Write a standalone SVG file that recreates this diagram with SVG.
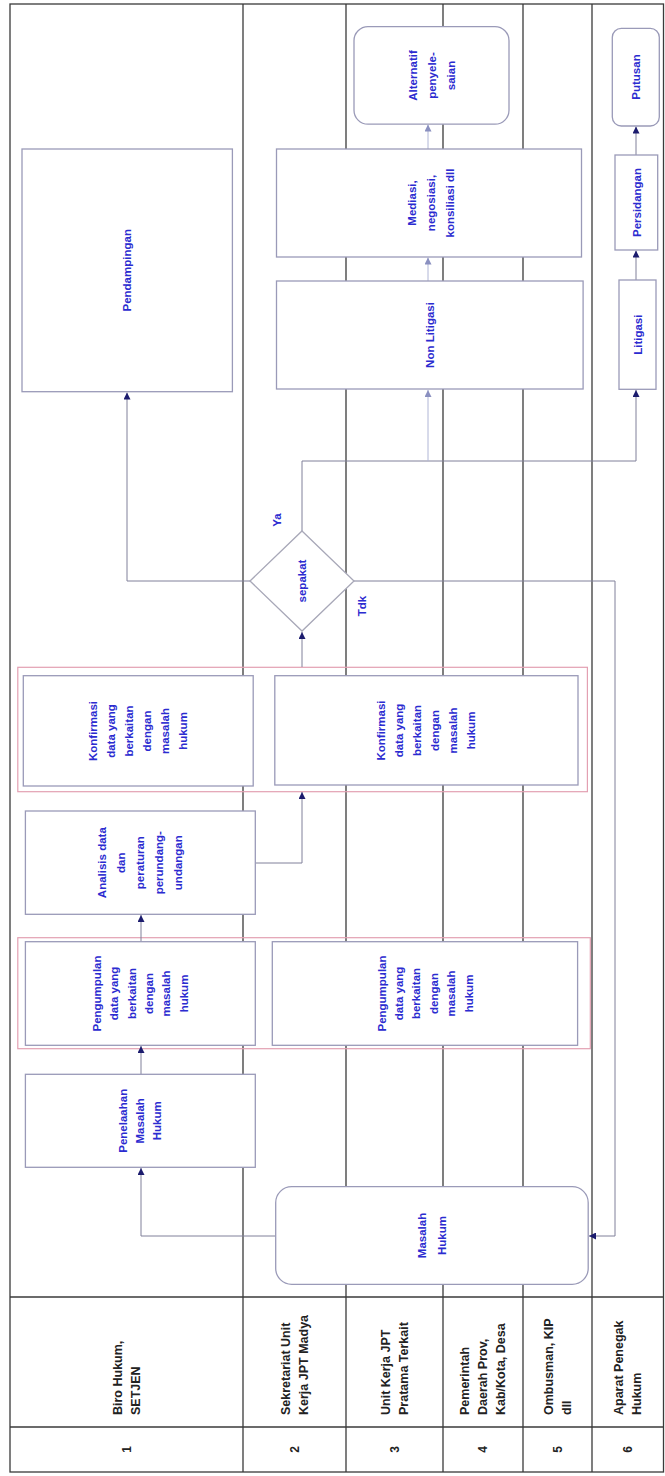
<svg xmlns="http://www.w3.org/2000/svg" width="665" height="1476" viewBox="0 0 665 1476">
<defs>
<marker id="arr" viewBox="0 0 10 10" refX="10" refY="5" markerWidth="7" markerHeight="7" orient="auto" markerUnits="userSpaceOnUse"><path d="M0,0 L10,5 L0,10 z" fill="#1c1c6e"/></marker>
<marker id="arrL" viewBox="0 0 10 10" refX="10" refY="5" markerWidth="7" markerHeight="7" orient="auto" markerUnits="userSpaceOnUse"><path d="M0,0 L10,5 L0,10 z" fill="#8a90c0"/></marker>
</defs>
<style>
.lane{stroke:#3a3a3a;stroke-width:1.3;fill:none}
.box{fill:#fff;stroke:#9a9ab8;stroke-width:1.3}
.grp{fill:none;stroke:#e3a0b2;stroke-width:1.2}
.t{font-family:"Liberation Sans",Arial,sans-serif;font-weight:bold;font-size:11.5px;fill:#2b2bd0;text-anchor:middle}
.h{font-family:"Liberation Sans",Arial,sans-serif;font-weight:bold;font-size:12.5px;fill:#222}
.n{font-family:"Liberation Sans",Arial,sans-serif;font-weight:bold;font-size:12px;fill:#222;text-anchor:middle}
.c{fill:none;stroke:#80809a;stroke-width:1;marker-end:url(#arr)}
.cl{fill:none;stroke:#b0b6d6;stroke-width:1;marker-end:url(#arrL)}
.cn{fill:none;stroke:#b0b6d6;stroke-width:1}
</style>
<rect x="0" y="0" width="665" height="1476" fill="#fff"/>
<g id="lanes">
<rect class="lane" x="10" y="4" width="653.5" height="1468" stroke-width="1.6"/>
<line class="lane" x1="243" y1="4" x2="243" y2="1472"/>
<line class="lane" x1="346" y1="4" x2="346" y2="1472"/>
<line class="lane" x1="443" y1="4" x2="443" y2="1472"/>
<line class="lane" x1="523" y1="4" x2="523" y2="1472"/>
<line class="lane" x1="592" y1="4" x2="592" y2="1472"/>
<line class="lane" x1="10" y1="1297" x2="663.5" y2="1297"/>
<line class="lane" x1="10" y1="1427" x2="663.5" y2="1427"/>
</g>
<g id="headers">
<text class="h" transform="translate(126.5,1415) rotate(-90)"><tspan x="0" y="-4.6">Biro Hukum,</tspan><tspan x="0" y="13.4">SETJEN</tspan></text>
<text class="h" transform="translate(294.5,1415) rotate(-90)"><tspan x="0" y="-4.6">Sekretariat Unit</tspan><tspan x="0" y="13.4">Kerja JPT Madya</tspan></text>
<text class="h" transform="translate(394.5,1415) rotate(-90)"><tspan x="0" y="-4.6">Unit Kerja JPT</tspan><tspan x="0" y="13.4">Pratama Terkait</tspan></text>
<text class="h" transform="translate(483,1415) rotate(-90)"><tspan x="0" y="-13.6">Pemerintah</tspan><tspan x="0" y="4.4">Daerah Prov,</tspan><tspan x="0" y="22.4">Kab/Kota, Desa</tspan></text>
<text class="h" transform="translate(557.5,1415) rotate(-90)"><tspan x="0" y="-4.6">Ombusman, KIP</tspan><tspan x="0" y="13.4">dll</tspan></text>
<text class="h" transform="translate(627.5,1415) rotate(-90)"><tspan x="0" y="-4.6">Aparat Penegak</tspan><tspan x="0" y="13.4">Hukum</tspan></text>
<text class="n" transform="translate(126.5,1449.5) rotate(-90)" y="4.2">1</text>
<text class="n" transform="translate(294.5,1449.5) rotate(-90)" y="4.2">2</text>
<text class="n" transform="translate(394.5,1449.5) rotate(-90)" y="4.2">3</text>
<text class="n" transform="translate(483,1449.5) rotate(-90)" y="4.2">4</text>
<text class="n" transform="translate(557.5,1449.5) rotate(-90)" y="4.2">5</text>
<text class="n" transform="translate(627.5,1449.5) rotate(-90)" y="4.2">6</text>
</g>
<g id="groups">
<rect class="grp" x="17.8" y="937.7" width="572.5" height="111"/>
<rect class="grp" x="17.8" y="667.3" width="569.6" height="124.4"/>
</g>
<g id="connectors">
<path class="c" d="M275.7,1236 H141 V1168"/>
<path class="c" d="M141,1074 V1046"/>
<path class="c" d="M141,942 V915"/>
<path class="c" d="M255.3,863 H302 V792"/>
<path class="c" d="M302,667 V632"/>
<path class="c" d="M250,581 H127 V392.5"/>
<path class="c" d="M354,581 H615 V1236 H589"/>
<path class="c" d="M302,531 V461 H636 V390"/>
<path class="cl" d="M428,461 V390"/>
<path class="cl" d="M428,281 V257.5"/>
<path class="cl" d="M428,149 V124.5"/>
<path class="c" d="M636,280 V250.5"/>
<path class="c" d="M636,155 V126.5"/>
</g>
<g id="masalah-hukum">
<rect class="box" x="275.7" y="1186.7" width="312.5" height="97.6" rx="16"/>
<text class="t" transform="translate(432,1235.5) rotate(-90)"><tspan x="0" y="-6">Masalah</tspan><tspan x="0" y="14">Hukum</tspan></text>
</g>
<g id="penelaahan">
<rect class="box" x="25.4" y="1074.3" width="229.9" height="93"/>
<text class="t" transform="translate(140.3,1120.8) rotate(-90)"><tspan x="0" y="-13">Penelaahan</tspan><tspan x="0" y="4">Masalah</tspan><tspan x="0" y="21">Hukum</tspan></text>
</g>
<g id="pengumpulan-1">
<rect class="box" x="25.4" y="941.7" width="229.9" height="103.6"/>
<text class="t" transform="translate(140.3,993.5) rotate(-90)"><tspan x="0" y="-39.5">Pengumpulan</tspan><tspan x="0" y="-22.1">data yang</tspan><tspan x="0" y="-4.7">berkaitan</tspan><tspan x="0" y="12.7">dengan</tspan><tspan x="0" y="30.1">masalah</tspan><tspan x="0" y="47.5">hukum</tspan></text>
</g>
<g id="pengumpulan-2">
<rect class="box" x="272.3" y="941.7" width="305.3" height="103.6"/>
<text class="t" transform="translate(425,993.5) rotate(-90)"><tspan x="0" y="-39.5">Pengumpulan</tspan><tspan x="0" y="-22.1">data yang</tspan><tspan x="0" y="-4.7">berkaitan</tspan><tspan x="0" y="12.7">dengan</tspan><tspan x="0" y="30.1">masalah</tspan><tspan x="0" y="47.5">hukum</tspan></text>
</g>
<g id="analisis">
<rect class="box" x="25.4" y="811" width="229.9" height="103.3"/>
<text class="t" transform="translate(140.3,862.7) rotate(-90)"><tspan x="0" y="-34">Analisis data</tspan><tspan x="0" y="-15">dan</tspan><tspan x="0" y="4">peraturan</tspan><tspan x="0" y="23">perundang-</tspan><tspan x="0" y="42">undangan</tspan></text>
</g>
<g id="konfirmasi-1">
<rect class="box" x="23.3" y="675.7" width="229.9" height="110.3"/>
<text class="t" transform="translate(138.3,731) rotate(-90)"><tspan x="0" y="-41">Konfirmasi</tspan><tspan x="0" y="-23">data yang</tspan><tspan x="0" y="-5">berkaitan</tspan><tspan x="0" y="13">dengan</tspan><tspan x="0" y="31">masalah</tspan><tspan x="0" y="49">hukum</tspan></text>
</g>
<g id="konfirmasi-2">
<rect class="box" x="274.8" y="675.7" width="303.2" height="109.3"/>
<text class="t" transform="translate(426.4,730.5) rotate(-90)"><tspan x="0" y="-41">Konfirmasi</tspan><tspan x="0" y="-23">data yang</tspan><tspan x="0" y="-5">berkaitan</tspan><tspan x="0" y="13">dengan</tspan><tspan x="0" y="31">masalah</tspan><tspan x="0" y="49">hukum</tspan></text>
</g>
<g id="sepakat">
<polygon points="302,531 354,581 302,631 250,581" fill="#fff" stroke="#a8a8b8" stroke-width="1.3"/>
<text class="t" transform="translate(302,581) rotate(-90)" y="4">sepakat</text>
<text class="t" transform="translate(277,520) rotate(-90)" y="4">Ya</text>
<text class="t" transform="translate(362,606) rotate(-90)" y="4">Tdk</text>
</g>
<g id="pendampingan">
<rect class="box" x="22" y="149" width="210.4" height="242.7"/>
<text class="t" transform="translate(127.2,270.3) rotate(-90)" y="4" font-size="13">Pendampingan</text>
</g>
<g id="non-litigasi">
<rect class="box" x="276.5" y="281" width="306.6" height="108"/>
<text class="t" transform="translate(429.8,335) rotate(-90)" y="4">Non Litigasi</text>
</g>
<g id="mediasi">
<rect class="box" x="276.5" y="149" width="305" height="108"/>
<text class="t" transform="translate(431,203) rotate(-90)"><tspan x="0" y="-15">Mediasi,</tspan><tspan x="0" y="4">negosiasi,</tspan><tspan x="0" y="23">konsiliasi dll</tspan></text>
</g>
<g id="alternatif">
<rect class="box" x="354" y="26.7" width="155" height="97.5" rx="14"/>
<text class="t" transform="translate(432,75.5) rotate(-90)"><tspan x="0" y="-15">Alternatif</tspan><tspan x="0" y="4">penyele-</tspan><tspan x="0" y="23">saian</tspan></text>
</g>
<g id="litigasi">
<rect class="box" x="619" y="280" width="37" height="109.3"/>
<text class="t" transform="translate(637.5,334.7) rotate(-90)" y="4.5" font-size="12.5">Litigasi</text>
</g>
<g id="persidangan">
<rect class="box" x="615" y="155" width="42.7" height="95"/>
<text class="t" transform="translate(636.4,202.5) rotate(-90)" y="4.5" font-size="12">Persidangan</text>
</g>
<g id="putusan">
<rect class="box" x="612.3" y="28.3" width="47" height="97.7" rx="9"/>
<text class="t" transform="translate(635.8,77) rotate(-90)" y="4.5" font-size="12.5">Putusan</text>
</g>
</svg>
